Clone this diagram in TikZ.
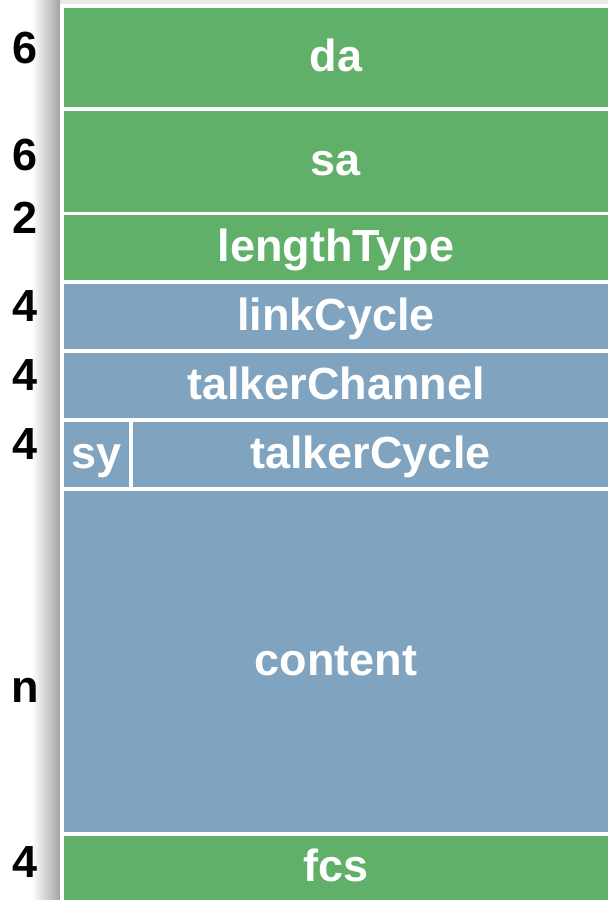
\documentclass[tikz,border=0pt]{standalone}
\usepackage{fontspec}
\setmainfont{Liberation Sans}
\begin{document}
\begin{tikzpicture}[x=1pt,y=-1pt]
\definecolor{grn}{RGB}{96,176,106}
\definecolor{blu}{RGB}{128,164,192}
\tikzset{
  fld/.style={anchor=north west, inner sep=0pt, outer sep=0pt,
    minimum width=544pt, text=white, text height=32.4pt, text depth=4.5pt,
    font=\fontsize{45}{54}\selectfont\bfseries},
  octets/.style={inner sep=0pt, font=\fontsize{45}{54}\selectfont\bfseries}
}
\useasboundingbox (0,0) rectangle (608,900);
% soft shadow behind the frame
\fill[gray!16] (60,0) rectangle (608,4);
\shade[left color=white, right color=gray!72] (32,0) rectangle (60,900);
\fill[white] (60,4) rectangle (608,900);
% header and trailer fields
\node[fld, fill=grn, minimum height=99pt]  (da)  at (64,8)   {da};
\node[fld, fill=grn, minimum height=101pt] (sa)  at (64,111) {sa};
\node[fld, fill=grn, minimum height=65pt]  (lt)  at (64,215) {lengthType};
\node[fld, fill=blu, minimum height=65pt]  (lc)  at (64,284) {linkCycle};
\node[fld, fill=blu, minimum height=65pt]  (tch) at (64,353) {talkerChannel};
\node[fld, fill=blu, minimum height=65pt, minimum width=65pt]  (sy)  at (64,422)  {sy};
\node[fld, fill=blu, minimum height=65pt, minimum width=475pt] (tcy) at (133,422) {talkerCycle};
\node[fld, fill=blu, minimum height=341pt] (ct)  at (64,491) {content};
\node[fld, fill=grn, minimum height=64pt]  (fcs) at (64,836) {fcs};
% field sizes in octets
\node[octets] (n1) at (25,48)  {6};
\node[octets] (n2) at (25,155) {6};
\node[octets] (n3) at (25,218) {2};
\node[octets] (n4) at (25,306) {4};
\node[octets] (n5) at (25,375) {4};
\node[octets] (n6) at (25,444) {4};
\node[octets] (n7) at (25,690) {n};
\node[octets] (n8) at (25,862) {4};
\end{tikzpicture}
\end{document}
